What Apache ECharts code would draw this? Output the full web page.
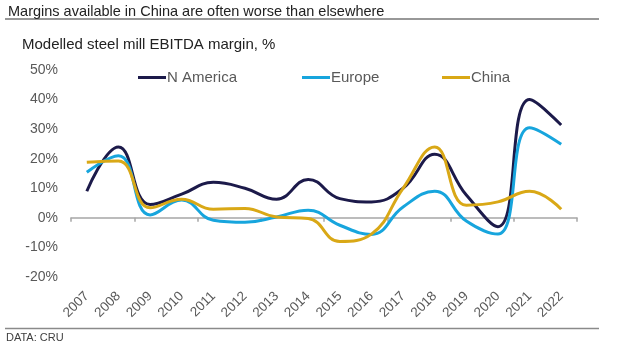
<!DOCTYPE html>
<html>
<head>
<meta charset="utf-8">
<script src="https://cdn.jsdelivr.net/npm/echarts@6/dist/echarts.min.js"></script>
<style>
html,body{margin:0;padding:0;background:#fff;}
#chart{width:618px;height:347px;}
</style>
</head>
<body>
<div id="chart"></div>
<script>
const years = ['2007','2008','2009','2010','2011','2012','2013','2014','2015','2016','2017','2018','2019','2020','2021','2022'];
const nAmerica = [9, 24, 4.5, 8, 12, 10, 6.3, 13, 6.5, 5.4, 10, 21.5, 7.7, -3, 40, 31.4];
const europe = [15.4, 21, 1, 6, -0.8, -1.5, 0.3, 2.6, -2.5, -5.6, 3.7, 9, -1.1, -5.5, 30.5, 24.9];
const china = [18.8, 19.2, 3.4, 6.3, 2.9, 3.2, 0.3, -0.2, -8, -5.5, 10, 24, 4.3, 5.4, 9, 2.9];
const yTicks = [-20, -10, 0, 10, 20, 30, 40, 50];

const FONT = '"Liberation Sans", Arial, sans-serif';
const chart = echarts.init(document.getElementById('chart'), null, {renderer: 'canvas'});

function legendFor(name, left) {
  return {
    data: [name], left: left, top: 70, padding: 0, icon: 'rect', itemWidth: 28, itemHeight: 3,
    textStyle: {fontFamily: FONT, fontSize: 15, color: '#595959', padding: [0,0,0,-4]}
  };
}

chart.setOption({
  animation: false,
  backgroundColor: '#fff',
  grid: {left: 71, right: 41, top: 70, bottom: 70, containLabel: false},
  legend: [legendFor('N America', 138), legendFor('Europe', 302), legendFor('China', 442)],
  xAxis: [
    {
      type: 'category', data: years, position: 'bottom',
      axisLine: {show: false, onZero: false}, axisTick: {show: false},
      axisLabel: {rotate: 45, margin: 17, fontFamily: FONT, fontSize: 13.5, color: '#595959', interval: 0}
    },
    {
      type: 'category', data: years, position: 'bottom',
      axisLine: {show: true, onZero: true, lineStyle: {color: '#a6a6a6', width: 1.5}},
      axisTick: {show: true, length: 4, inside: false, lineStyle: {color: '#a6a6a6', width: 1.5}},
      axisLabel: {show: false}
    }
  ],
  yAxis: {
    type: 'value', min: yTicks[0], max: yTicks[yTicks.length - 1], interval: 10,
    axisLine: {show: false}, axisTick: {show: false}, splitLine: {show: false},
    axisLabel: {formatter: '{value}%', margin: 13, fontFamily: FONT, fontSize: 14, color: '#595959'}
  },
  series: [
    {name: 'N America', type: 'line', data: nAmerica, smooth: 0.45, symbol: 'none', color: '#1c1a4a', lineStyle: {width: 3}},
    {name: 'Europe', type: 'line', data: europe, smooth: 0.45, symbol: 'none', color: '#17a5dd', lineStyle: {width: 3}},
    {name: 'China', type: 'line', data: china, smooth: 0.45, symbol: 'none', color: '#d9a816', lineStyle: {width: 3}}
  ],
  graphic: [
    {type: 'text', left: 8, top: 4, style: {text: 'Margins available in China are often worse than elsewhere', font: '14.5px ' + FONT, fill: '#222'}},
    {type: 'line', shape: {x1: 5, y1: 19, x2: 599, y2: 19}, style: {stroke: '#333', lineWidth: 1.2}},
    {type: 'text', left: 22, top: 37, style: {text: 'Modelled steel mill EBITDA margin, %', font: '15px ' + FONT, fill: '#222'}},
    {type: 'line', shape: {x1: 5, y1: 328.5, x2: 599, y2: 328.5}, style: {stroke: '#8a8a8a', lineWidth: 1.3}},
    {type: 'text', left: 6, top: 332, style: {text: 'DATA: CRU', font: '11px ' + FONT, fill: '#404040'}}
  ]
});
</script>
</body>
</html>
